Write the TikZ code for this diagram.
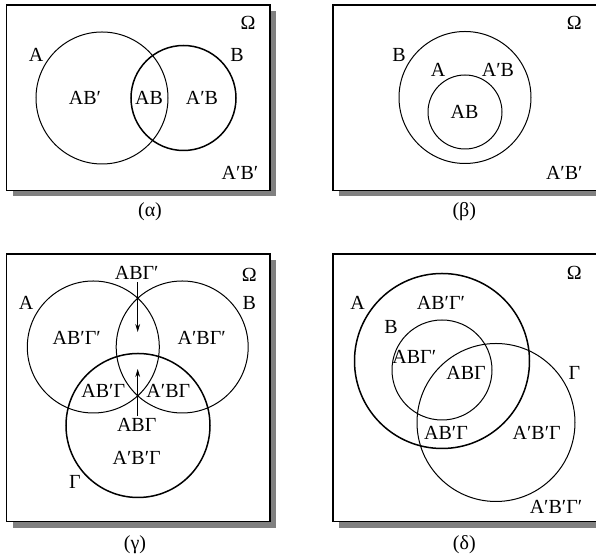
\documentclass[tikz,border=0pt]{standalone}
\usepackage{fontspec}
\setmainfont{Liberation Serif}
\usetikzlibrary{arrows.meta}

\begin{document}
\begin{tikzpicture}[
    x=0.5pt, y=-0.5pt,
    frame/.style={draw=black, fill=white, line width=0.8pt},
    shade/.style={fill=black!50, draw=none},
    setline/.style={line width=0.5pt},
    boldline/.style={line width=0.75pt},
    lbl/.style={inner sep=1pt},
    pointer/.style={line width=0.5pt, -{Stealth[length=4pt, width=2.4pt]}}
]
    \clip (0,0) rectangle (596,560);

    % (alpha): two overlapping sets
    \fill[shade] (12.5,11) rectangle (276,196.5);
    \draw[frame] (6.5,5) rectangle (270,190.5);
    \draw[setline] (102,98) circle (66);
    \draw[boldline] (183.5,98) circle (52.5);
    \node[lbl] (omA) at (248,23) {Ω};
    \node[lbl] (sA1) at (36,55) {A};
    \node[lbl] (sB1) at (237,55) {B};
    \node[lbl] (abpA) at (85,98) {AB′};
    \node[lbl] (abA) at (149,98) {AB};
    \node[lbl] (apbA) at (202,98) {A′B};
    \node[lbl] (apbpA) at (240,173) {A′B′};
    \node[lbl] (capA) at (150,212) {(α)};

    % (beta): A inside B
    \fill[shade] (338.7,11) rectangle (620,196.5);
    \draw[frame] (332.7,5) rectangle (614,190.5);
    \draw[setline] (465,97.5) circle (66);
    \draw[setline] (465,112) circle (37);
    \node[lbl] (omB) at (574.3,23) {Ω};
    \node[lbl] (sB2) at (399,55) {B};
    \node[lbl] (sA2) at (438,70) {A};
    \node[lbl] (apbB) at (498,70) {A′B};
    \node[lbl] (abB) at (464.5,112) {AB};
    \node[lbl] (apbpB) at (564.3,173.3) {A′B′};
    \node[lbl] (capB) at (464.3,212) {(β)};

    % (gamma): three overlapping sets
    \fill[shade] (12.5,260) rectangle (276,527.7);
    \draw[frame] (6.5,254) rectangle (270,521.7);
    \draw[setline] (93.3,347) circle (66);
    \draw[setline] (182.2,347) circle (66);
    \draw[boldline] (138,425.5) circle (72);
    \node[lbl] (abgpC) at (136.7,273.3) {ΑΒΓ′};
    \node[lbl] (omC) at (249.3,275) {Ω};
    \node[lbl] (sA3) at (26,302.7) {A};
    \node[lbl] (sB3) at (249.3,302.7) {B};
    \node[lbl] (abpgpC) at (76.7,338.3) {AB′Γ′};
    \node[lbl] (apbgpC) at (201.7,338.3) {A′BΓ′};
    \node[lbl] (abpgC) at (103.3,390.7) {AB′Γ};
    \node[lbl] (apbgC) at (168.3,390.7) {A′BΓ};
    \node[lbl] (abgC) at (136.7,425) {ABΓ};
    \node[lbl] (apbpgC) at (136.7,458.3) {A′B′Γ};
    \node[lbl] (sG3) at (75,481.7) {Γ};
    \node[lbl] (capC) at (135,545) {(γ)};

    % pointers to the triple region
    \coordinate (topend) at (137.7,332);
    \coordinate (botend) at (137.7,369);
    \draw[pointer] (abgpC.south -| topend) -- (topend);
    \draw[pointer] (abgC.north -| botend) -- (botend);

    % (delta): B inside A, Γ overlapping both
    \fill[shade] (338.7,260) rectangle (620,527.7);
    \draw[frame] (332.7,254) rectangle (614,521.7);
    \draw[boldline] (442,361) circle (87.5);
    \draw[setline] (442,370) circle (50);
    \draw[setline] (496,422.5) circle (79);
    \node[lbl] (omD) at (574.3,273.3) {Ω};
    \node[lbl] (sA4) at (357.7,302.7) {A};
    \node[lbl] (abpgpD) at (441,302.7) {AB′Γ′};
    \node[lbl] (sB4) at (391,326.7) {B};
    \node[lbl] (abgpD) at (414.3,356.7) {ABΓ′};
    \node[lbl] (abgD) at (466,372.7) {ABΓ};
    \node[lbl] (sG4) at (574.3,372.7) {Γ};
    \node[lbl] (abpgD) at (446,432.7) {AB′Γ};
    \node[lbl] (apbpgD) at (536.7,432.7) {A′B′Γ};
    \node[lbl] (apbpgpD) at (556,506.7) {A′B′Γ′};
    \node[lbl] (capD) at (464.3,545) {(δ)};
\end{tikzpicture}
\end{document}
